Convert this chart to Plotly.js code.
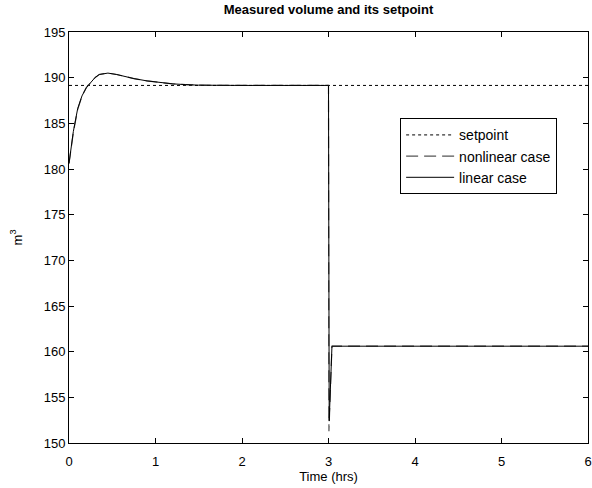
<!DOCTYPE html>
<html>
<head>
<meta charset="utf-8">
<script src="https://cdn.plot.ly/plotly-3.0.1.min.js"></script>
<style>body{margin:0;padding:0;background:#fff;} #chart{width:592px;height:488px;}</style>
</head>
<body>
<div id="chart"></div>
<script>
// Data
const tSetpoint = [0, 6];
const vSetpoint = [189.15, 189.15];

const tNonlinear = [0, 0.05, 0.1, 0.15, 0.2, 0.25, 0.3, 0.35, 0.45, 0.55, 0.65, 0.75, 0.9, 1.05, 1.2, 1.35, 1.5, 2.0, 2.5, 3.0, 3.005, 3.04, 6];
const vNonlinear = [180.6, 184.0, 186.5, 188.0, 188.9, 189.5, 190.0, 190.35, 190.5, 190.35, 190.12, 189.9, 189.65, 189.45, 189.32, 189.24, 189.18, 189.15, 189.15, 189.15, 151.3, 160.6, 160.6];

const tLinear = [0, 0.05, 0.1, 0.15, 0.2, 0.25, 0.3, 0.35, 0.45, 0.55, 0.65, 0.75, 0.9, 1.05, 1.2, 1.35, 1.5, 2.0, 2.5, 3.0, 3.008, 3.04, 6];
const vLinear = [180.6, 184.1, 186.6, 188.0, 188.9, 189.5, 190.0, 190.35, 190.5, 190.35, 190.1, 189.9, 189.65, 189.45, 189.32, 189.24, 189.18, 189.15, 189.15, 189.15, 152.4, 160.6, 160.6];

const xTicks = [0, 1, 2, 3, 4, 5, 6];
const yTicks = [150, 155, 160, 165, 170, 175, 180, 185, 190, 195];

const font = 'Arial, "Liberation Sans", Helvetica, sans-serif';

const traces = [
  {x: tSetpoint, y: vSetpoint, mode: 'lines', name: 'setpoint',
   line: {color: '#000', width: 1, dash: '3px,3px'}},
  {x: tNonlinear, y: vNonlinear, mode: 'lines', name: 'nonlinear case',
   line: {color: '#555', width: 1.2, dash: '12px,6px'}},
  {x: tLinear, y: vLinear, mode: 'lines', name: 'linear case',
   line: {color: '#000', width: 1}}
];

const axisCommon = {
  showline: true, mirror: 'ticks', linecolor: '#000', linewidth: 1,
  ticks: 'inside', ticklen: 5, tickcolor: '#000', tickwidth: 1,
  showgrid: false, zeroline: false,
  tickfont: {family: font, size: 13, color: '#000'}
};

const layout = {
  width: 592, height: 488,
  margin: {l: 69, r: 4, t: 32, b: 45},
  paper_bgcolor: '#fff', plot_bgcolor: '#fff',
  showlegend: true,
  title: {text: '<b>Measured volume and its setpoint</b>', font: {family: font, size: 13, color: '#000'},
          x: 0.5, xref: 'paper', y: 0.99, yanchor: 'top'},
  xaxis: Object.assign({}, axisCommon, {
    range: [0, 6], tickvals: xTicks, ticktext: xTicks.map(String),
    ticklabelstandoff: 6,
    title: {text: 'Time (hrs)', font: {family: font, size: 13, color: '#000'}, standoff: 4}
  }),
  yaxis: Object.assign({}, axisCommon, {
    range: [150, 195], tickvals: yTicks, ticktext: yTicks.map(String),
    title: {text: 'm<sup>3</sup>', font: {family: font, size: 13, color: '#000'}, standoff: 18}
  }),
  legend: {
    x: 0.638, y: 0.79, xanchor: 'left', yanchor: 'top',
    bgcolor: '#fff', bordercolor: '#000', borderwidth: 1,
    font: {family: font, size: 14, color: '#000'},
    itemwidth: 48,
    tracegroupgap: 0
  }
};

Plotly.newPlot('chart', traces, layout, {displayModeBar: false, staticPlot: true});
</script>
</body>
</html>
